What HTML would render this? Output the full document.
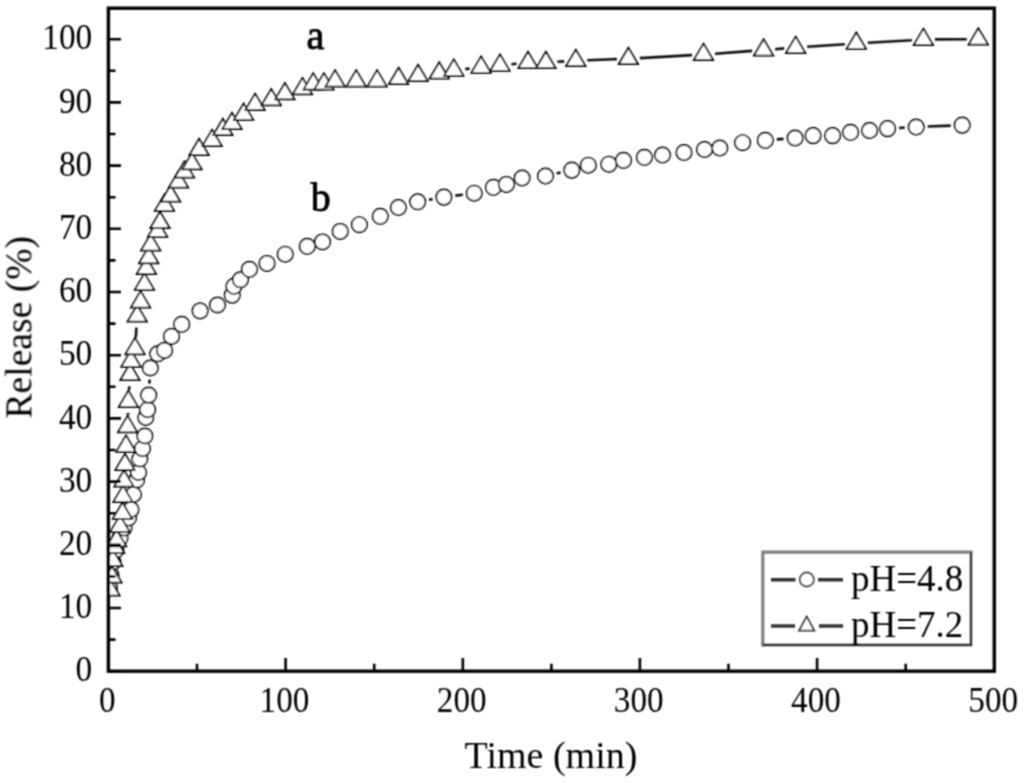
<!DOCTYPE html>
<html><head><meta charset="utf-8"><title>Release chart</title>
<style>html,body{margin:0;padding:0;background:#fff;}body{width:1024px;height:783px;overflow:hidden;}svg{display:block;}</style>
</head><body>
<svg width="1024" height="783" viewBox="0 0 1024 783">
<rect width="1024" height="783" fill="#fff"/>
<defs><filter id="bl" filterUnits="userSpaceOnUse" x="0" y="0" width="1024" height="783"><feConvolveMatrix order="3" kernelMatrix="1 2 1 2 4 2 1 2 1" divisor="0" edgeMode="duplicate"/></filter><clipPath id="pc"><rect x="108.4" y="8.2" width="885.9" height="663.0"/></clipPath></defs>
<g filter="url(#bl)">
<g clip-path="url(#pc)">
<path d="M149.4 383.6L149.6 379.5M429.0 199.8L432.6 199.1M455.3 195.6L462.8 194.7M556.7 173.5L560.6 172.6M776.8 139.4L783.6 138.9M899.1 128.0L904.7 127.6M927.7 126.5L950.7 125.6" stroke="#111" stroke-width="2.6" fill="none"/>
<g fill="#fff" stroke="#000" stroke-width="1.65">
<circle cx="109.5" cy="588.0" r="7.7"/>
<circle cx="111.0" cy="575.0" r="7.7"/>
<circle cx="113.0" cy="562.0" r="7.7"/>
<circle cx="116.0" cy="550.0" r="7.7"/>
<circle cx="120.0" cy="538.0" r="7.7"/>
<circle cx="124.0" cy="528.0" r="7.7"/>
<circle cx="128.5" cy="518.0" r="7.7"/>
<circle cx="131.0" cy="509.5" r="7.7"/>
<circle cx="133.4" cy="494.5" r="7.7"/>
<circle cx="136.6" cy="480.0" r="7.7"/>
<circle cx="138.5" cy="472.5" r="7.7"/>
<circle cx="139.8" cy="459.0" r="7.7"/>
<circle cx="142.4" cy="448.7" r="7.7"/>
<circle cx="144.9" cy="436.0" r="7.7"/>
<circle cx="145.8" cy="417.5" r="7.7"/>
<circle cx="147.6" cy="409.7" r="7.7"/>
<circle cx="148.7" cy="395.1" r="7.7"/>
<circle cx="150.3" cy="368.0" r="7.7"/>
<circle cx="157.7" cy="353.8" r="7.7"/>
<circle cx="164.5" cy="350.4" r="7.7"/>
<circle cx="171.5" cy="336.4" r="7.7"/>
<circle cx="181.7" cy="324.3" r="7.7"/>
<circle cx="200.1" cy="310.9" r="7.7"/>
<circle cx="217.5" cy="305.0" r="7.7"/>
<circle cx="232.2" cy="295.1" r="7.7"/>
<circle cx="233.9" cy="286.3" r="7.7"/>
<circle cx="240.4" cy="279.8" r="7.7"/>
<circle cx="249.4" cy="269.3" r="7.7"/>
<circle cx="267.0" cy="263.4" r="7.7"/>
<circle cx="285.2" cy="254.2" r="7.7"/>
<circle cx="307.3" cy="246.3" r="7.7"/>
<circle cx="322.5" cy="241.9" r="7.7"/>
<circle cx="340.2" cy="231.4" r="7.7"/>
<circle cx="359.4" cy="224.7" r="7.7"/>
<circle cx="380.3" cy="216.3" r="7.7"/>
<circle cx="398.4" cy="207.5" r="7.7"/>
<circle cx="417.7" cy="201.8" r="7.7"/>
<circle cx="443.9" cy="197.1" r="7.7"/>
<circle cx="474.2" cy="193.2" r="7.7"/>
<circle cx="493.4" cy="187.3" r="7.7"/>
<circle cx="506.4" cy="184.4" r="7.7"/>
<circle cx="522.1" cy="178.0" r="7.7"/>
<circle cx="545.5" cy="176.0" r="7.7"/>
<circle cx="571.8" cy="170.1" r="7.7"/>
<circle cx="588.3" cy="165.2" r="7.7"/>
<circle cx="608.8" cy="164.2" r="7.7"/>
<circle cx="623.5" cy="160.3" r="7.7"/>
<circle cx="644.4" cy="157.3" r="7.7"/>
<circle cx="662.5" cy="155.0" r="7.7"/>
<circle cx="684.0" cy="152.5" r="7.7"/>
<circle cx="704.5" cy="149.5" r="7.7"/>
<circle cx="719.8" cy="148.0" r="7.7"/>
<circle cx="742.6" cy="142.7" r="7.7"/>
<circle cx="765.3" cy="140.3" r="7.7"/>
<circle cx="795.1" cy="138.0" r="7.7"/>
<circle cx="813.1" cy="135.6" r="7.7"/>
<circle cx="832.6" cy="135.6" r="7.7"/>
<circle cx="850.6" cy="132.3" r="7.7"/>
<circle cx="869.6" cy="130.5" r="7.7"/>
<circle cx="887.6" cy="128.6" r="7.7"/>
<circle cx="916.2" cy="127.0" r="7.7"/>
<circle cx="962.2" cy="125.1" r="7.7"/>
</g>
<path d="M128.0 415.3L128.0 413.0M129.1 390.0L129.3 386.2M135.8 337.3L136.4 327.6M465.2 69.0L469.7 68.6M511.4 64.2L516.6 63.7M557.4 61.8L564.3 61.4M587.3 60.2L616.9 59.1M639.9 58.1L692.0 55.1M715.0 53.7L752.1 50.9M775.1 49.2L784.2 48.4M807.2 46.7L844.8 44.2M867.8 42.7L911.9 40.2M934.9 39.4L966.8 39.2" stroke="#111" stroke-width="2.6" fill="none"/>
<g fill="#fff" stroke="#000" stroke-width="1.75" stroke-linejoin="miter">
<path d="M110.0 579.1L119.7 595.5L100.3 595.5Z"/>
<path d="M112.0 566.2L121.7 582.6L102.3 582.6Z"/>
<path d="M112.8 549.6L122.5 566.0L103.1 566.0Z"/>
<path d="M114.6 536.6L124.3 553.0L104.9 553.0Z"/>
<path d="M116.6 529.9L126.3 546.3L106.9 546.3Z"/>
<path d="M120.0 515.4L129.7 531.8L110.3 531.8Z"/>
<path d="M122.5 502.5L132.2 518.9L112.8 518.9Z"/>
<path d="M123.0 485.6L132.7 502.0L113.3 502.0Z"/>
<path d="M124.0 470.2L133.7 486.6L114.3 486.6Z"/>
<path d="M125.0 453.7L134.7 470.1L115.3 470.1Z"/>
<path d="M126.0 435.4L135.7 451.8L116.3 451.8Z"/>
<path d="M127.6 415.9L137.3 432.3L117.9 432.3Z"/>
<path d="M128.4 390.6L138.1 407.0L118.7 407.0Z"/>
<path d="M130.0 363.8L139.7 380.2L120.3 380.2Z"/>
<path d="M131.0 350.4L140.7 366.8L121.3 366.8Z"/>
<path d="M135.0 337.9L144.7 354.3L125.3 354.3Z"/>
<path d="M137.2 305.2L146.9 321.6L127.5 321.6Z"/>
<path d="M140.6 291.1L150.3 307.5L130.9 307.5Z"/>
<path d="M144.5 273.4L154.2 289.8L134.8 289.8Z"/>
<path d="M146.4 257.6L156.1 274.0L136.7 274.0Z"/>
<path d="M148.7 246.9L158.4 263.3L139.0 263.3Z"/>
<path d="M150.7 234.1L160.4 250.5L141.0 250.5Z"/>
<path d="M157.6 220.5L167.3 236.9L147.9 236.9Z"/>
<path d="M160.0 211.8L169.7 228.2L150.3 228.2Z"/>
<path d="M164.5 194.5L174.2 210.9L154.8 210.9Z"/>
<path d="M170.6 185.3L180.3 201.7L160.9 201.7Z"/>
<path d="M178.5 171.1L188.2 187.5L168.8 187.5Z"/>
<path d="M184.5 161.2L194.2 177.6L174.8 177.6Z"/>
<path d="M192.0 153.0L201.7 169.4L182.3 169.4Z"/>
<path d="M199.1 138.8L208.8 155.2L189.4 155.2Z"/>
<path d="M212.1 129.6L221.8 146.0L202.4 146.0Z"/>
<path d="M222.9 118.8L232.6 135.2L213.2 135.2Z"/>
<path d="M232.0 112.7L241.7 129.1L222.3 129.1Z"/>
<path d="M243.6 103.5L253.3 119.9L233.9 119.9Z"/>
<path d="M255.1 93.6L264.8 110.0L245.4 110.0Z"/>
<path d="M271.2 89.0L280.9 105.4L261.5 105.4Z"/>
<path d="M284.9 83.0L294.6 99.4L275.2 99.4Z"/>
<path d="M302.5 77.9L312.2 94.3L292.8 94.3Z"/>
<path d="M313.2 73.1L322.9 89.5L303.5 89.5Z"/>
<path d="M323.9 73.1L333.6 89.5L314.2 89.5Z"/>
<path d="M335.1 70.1L344.8 86.5L325.4 86.5Z"/>
<path d="M356.2 70.1L365.9 86.5L346.5 86.5Z"/>
<path d="M377.1 70.1L386.8 86.5L367.4 86.5Z"/>
<path d="M398.6 67.8L408.3 84.2L388.9 84.2Z"/>
<path d="M418.1 64.7L427.8 81.1L408.4 81.1Z"/>
<path d="M439.2 62.3L448.9 78.7L429.5 78.7Z"/>
<path d="M453.8 59.4L463.5 75.8L444.1 75.8Z"/>
<path d="M481.1 56.4L490.8 72.8L471.4 72.8Z"/>
<path d="M500.0 54.4L509.7 70.8L490.3 70.8Z"/>
<path d="M528.0 51.7L537.7 68.1L518.3 68.1Z"/>
<path d="M545.9 51.7L555.6 68.1L536.2 68.1Z"/>
<path d="M575.8 49.7L585.5 66.1L566.1 66.1Z"/>
<path d="M628.4 47.8L638.1 64.2L618.7 64.2Z"/>
<path d="M703.5 43.6L713.2 60.0L693.8 60.0Z"/>
<path d="M763.6 39.2L773.3 55.6L753.9 55.6Z"/>
<path d="M795.7 36.6L805.4 53.0L786.0 53.0Z"/>
<path d="M856.3 32.5L866.0 48.9L846.6 48.9Z"/>
<path d="M923.4 28.6L933.1 45.0L913.7 45.0Z"/>
<path d="M978.3 28.2L988.0 44.6L968.6 44.6Z"/>
</g>
</g>
<path d="M108.4 671.2H121.0M108.4 639.6H115.5M108.4 608.0H121.0M108.4 576.4H115.5M108.4 544.8H121.0M108.4 513.2H115.5M108.4 481.6H121.0M108.4 450.0H115.5M108.4 418.4H121.0M108.4 386.8H115.5M108.4 355.2H121.0M108.4 323.6H115.5M108.4 292.0H121.0M108.4 260.4H115.5M108.4 228.8H121.0M108.4 197.2H115.5M108.4 165.6H121.0M108.4 134.0H115.5M108.4 102.4H121.0M108.4 70.8H115.5M108.4 39.2H121.0M108.4 671.2V658.0M197.0 671.2V663.8M285.6 671.2V658.0M374.2 671.2V663.8M462.8 671.2V658.0M551.4 671.2V663.8M639.9 671.2V658.0M728.5 671.2V663.8M817.1 671.2V658.0M905.7 671.2V663.8M994.3 671.2V658.0" stroke="#000" stroke-width="2.6" fill="none"/>
<rect x="108.4" y="8.2" width="885.9" height="663.0" fill="none" stroke="#000" stroke-width="3.4"/>
<g font-family="'Liberation Serif', serif" font-size="35.5" text-anchor="end" fill="#000">
<text transform="translate(92.3 681.4) scale(0.94 1)">0</text>
<text transform="translate(92.3 618.2) scale(0.94 1)">10</text>
<text transform="translate(92.3 555.0) scale(0.94 1)">20</text>
<text transform="translate(92.3 491.8) scale(0.94 1)">30</text>
<text transform="translate(92.3 428.6) scale(0.94 1)">40</text>
<text transform="translate(92.3 365.4) scale(0.94 1)">50</text>
<text transform="translate(92.3 302.2) scale(0.94 1)">60</text>
<text transform="translate(92.3 239.0) scale(0.94 1)">70</text>
<text transform="translate(92.3 175.8) scale(0.94 1)">80</text>
<text transform="translate(92.3 112.6) scale(0.94 1)">90</text>
<text transform="translate(92.3 49.4) scale(0.94 1)">100</text>
</g>
<g font-family="'Liberation Serif', serif" font-size="35" text-anchor="middle" fill="#000">
<text transform="translate(107.3 712.4) scale(0.95 1)">0</text>
<text transform="translate(284.5 712.4) scale(0.95 1)">100</text>
<text transform="translate(461.7 712.4) scale(0.95 1)">200</text>
<text transform="translate(638.8 712.4) scale(0.95 1)">300</text>
<text transform="translate(816.0 712.4) scale(0.95 1)">400</text>
<text transform="translate(993.2 712.4) scale(0.95 1)">500</text>
</g>
<text font-family="'Liberation Serif', serif" font-size="38" x="551" y="767.5" text-anchor="middle">Time (min)</text>
<text font-family="'Liberation Serif', serif" font-size="37.6" transform="translate(31.4 327.3) rotate(-90)" text-anchor="middle">Release (%)</text>
<text font-family="'Liberation Serif', serif" font-size="40" stroke="#000" stroke-width="0.9" x="315.4" y="49.3" text-anchor="middle">a</text>
<text font-family="'Liberation Serif', serif" font-size="40" stroke="#000" stroke-width="0.9" x="320.8" y="210.5" text-anchor="middle">b</text>
<path d="M762.8 645V552.2H971" stroke="#808080" stroke-width="3.2" fill="none" stroke-linejoin="miter" stroke-linecap="square"/>
<path d="M971 552.2V645H762.8" stroke="#333" stroke-width="2.4" fill="none"/>
<path d="M771 579.7H795.5M818 579.7H843M771 626H795M819 626H843" stroke="#333" stroke-width="3.6" fill="none"/>
<circle cx="806.8" cy="579.5" r="7" fill="#fff" stroke="#444" stroke-width="1.8"/>
<path d="M806.7 616.6L814.3 630.6H799.1Z" fill="#fff" stroke="#333" stroke-width="1.8"/>
<g font-family="'Liberation Serif', serif" font-size="37" fill="#000">
<text x="851" y="591.2">pH=4.8</text>
<text x="851" y="637.4">pH=7.2</text>
</g>
</g>
</svg>
</body></html>
